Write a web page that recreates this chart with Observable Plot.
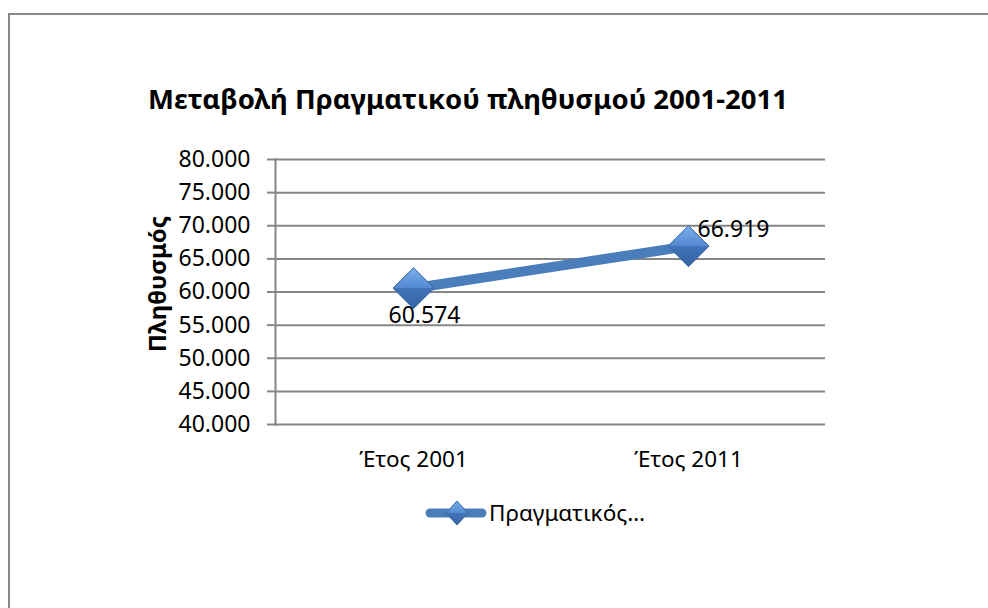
<!DOCTYPE html>
<html>
<head>
<meta charset="utf-8">
<script src="https://cdn.jsdelivr.net/npm/d3@7"></script>
<script src="https://cdn.jsdelivr.net/npm/@observablehq/plot@0.6"></script>
<style>
  html, body { margin: 0; padding: 0; background: #fff; overflow: hidden; }
  #wrap { position: relative; width: 988px; height: 608px; overflow: hidden; font-family: "Noto Sans", sans-serif; }
  #border { position: absolute; left: 8px; top: 13px; width: 1100px; height: 700px; border: 2px solid #888; box-sizing: border-box; }
  #chart { position: absolute; left: 0; top: 0; }
  #title { position: absolute; left: 0; width: 936px; top: 80px; text-align: center; font-weight: bold; font-size: 27.5px; color: #000; white-space: nowrap; }
  #legend { position: absolute; left: 424px; top: 497px; display: flex; align-items: center; font-size: 22.5px; color: #000; }
</style>
</head>
<body>
<div id="wrap">
  <div id="border"></div>
  <div id="chart"></div>
  <div id="title"></div>
  <div id="legend"></div>
</div>
<script>
const titleText = "Μεταβολή Πραγματικού πληθυσμού 2001-2011";
const yLabel = "Πληθυσμός";
const seriesName = "Πραγματικός…";
const categories = ["Έτος 2001", "Έτος 2011"];
const values = [60574, 66919];
const yTicks = [40000, 45000, 50000, 55000, 60000, 65000, 70000, 75000, 80000];

const fmt = d3.formatLocale({decimal: ",", thousands: ".", grouping: [3], currency: ["", "€"]}).format(",.0f");
const data = categories.map((c, i) => ({cat: c, value: values[i]}));

const gridColor = "#868686";
const lineColor = "#4A7EBB";
const fontSize = 23;

const svg = Plot.plot({
  width: 988,
  height: 608,
  marginLeft: 275,
  marginRight: 163,
  marginTop: 159,
  marginBottom: 184,
  style: {fontFamily: "'Noto Sans', sans-serif", fontSize: fontSize + "px", color: "#000", background: "transparent"},
  x: {type: "point", domain: categories, padding: 0.5},
  y: {domain: [40000, 80000]},
  marks: [
    Plot.gridY(yTicks, {stroke: gridColor, strokeOpacity: 1, strokeWidth: 2}),
    Plot.frame({anchor: "left", stroke: gridColor, strokeWidth: 2}),
    Plot.axisY(yTicks, {tickSize: 8, tickPadding: 17, tickFormat: fmt, label: null, stroke: gridColor, strokeWidth: 2, strokeOpacity: 1, fontSize: fontSize, fill: "#000"}),
    Plot.axisX({tickSize: 0, tickPadding: 27, label: null, fontSize: 22.5, fill: "#000"}),
    Plot.text([yLabel], {frameAnchor: "left", textAnchor: "middle", dx: -117, dy: -8, rotate: -90, fontWeight: "bold", fontSize: 24, fill: "#000"}),
    Plot.line(data, {x: "cat", y: "value", stroke: lineColor, strokeWidth: 10}),
    Plot.dot(data, {x: "cat", y: "value", symbol: "diamond2", r: 18.5, fill: "url(#dgrad)", stroke: "#3b67a0", strokeWidth: 1}),
    Plot.text(data.slice(0, 1), {x: "cat", y: "value", text: d => fmt(d.value), dx: 11, dy: 27, fontSize: fontSize, fill: "#000"}),
    Plot.text(data.slice(1, 2), {x: "cat", y: "value", text: d => fmt(d.value), dx: 45, dy: -17, fontSize: fontSize, fill: "#000"})
  ]
});

const defs = d3.select(svg).insert("defs", ":first-child");
const g = defs.append("linearGradient").attr("id", "dgrad").attr("x1", 0).attr("y1", 0).attr("x2", 0).attr("y2", 1);
[[0, "#7aaeea"], [0.5, "#5289d0"], [0.5, "#4274bb"], [1, "#3463a3"]].forEach(([o, c]) => g.append("stop").attr("offset", o).attr("stop-color", c));
const g2 = defs.append("linearGradient").attr("id", "lgrad").attr("x1", 0).attr("y1", 0).attr("x2", 0).attr("y2", 1);
[[0, "#7aaeea"], [0.5, "#5289d0"], [0.5, "#4274bb"], [1, "#3463a3"]].forEach(([o, c]) => g2.append("stop").attr("offset", o).attr("stop-color", c));

document.getElementById("chart").appendChild(svg);
document.getElementById("title").textContent = titleText;

const legend = document.getElementById("legend");
legend.innerHTML =
  '<svg width="64" height="30" style="margin-right:1px">' +
  '<line x1="6" y1="15" x2="58" y2="15" stroke="' + lineColor + '" stroke-width="9" stroke-linecap="round"/>' +
  '<path d="M33,3 L44,15 L33,27 L22,15 Z" fill="url(#lgrad)" stroke="#3b67a0" stroke-width="1"/>' +
  '</svg><span>' + seriesName + '</span>';
</script>
</body>
</html>
